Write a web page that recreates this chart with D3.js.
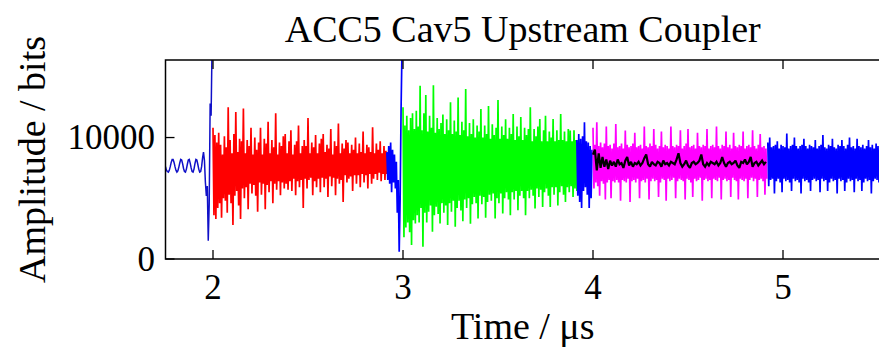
<!DOCTYPE html>
<html><head><meta charset="utf-8">
<script src="https://cdn.jsdelivr.net/npm/d3@7"></script>
<style>
html,body{margin:0;padding:0;background:#fff;}
svg{display:block;font-family:"Liberation Serif","Times New Roman",serif;}
</style></head><body>
<svg id="chart" width="879" height="347"></svg>
<script>
// Coupler probe trace, sampled every 5 ns (µs units); values in ADC bits.
const sampleStep = 0.005;
const blackStep = 0.01;

// Start time of each trace segment (µs)
const preStart = 1.75, redStart = 2.0, blueAStart = 2.915, greenStart = 3.0,
      blueBStart = 3.915, magentaStart = 4.0, blackStart = 4.0, blueCStart = 4.92;

// Pre-pulse ripple and switching transient
const preValues = [7600,7300,7200,7150,7300,7600,7950,8200,8200,7950,
  7600,7300,7150,7250,7550,7900,8200,8150,7850,7450,
  7200,7150,7400,7800,8150,8200,7900,7500,7200,7150,
  7400,7850,8200,8150,7800,7400,7150,7200,7600,8300,
  8800,8100,6300,5200,6000,1500,4500,12800,11800,17500];

// First pulse (alternating high / low samples)
const redValues = [
  10800,3600, 10200,3300, 9600,4200, 10400,4600, 9400,3400, 8600,5000, 10100,4800, 9200,3800,
  12500,5300, 9800,4600, 8700,2800, 10300,5200, 12100,5600, 8800,4400, 9900,3300, 9700,5800,
  12400,5000, 8700,5900, 9800,4100, 9300,6200, 10800,5400, 8600,6100, 10000,5200, 9000,3900,
  9600,6300, 10800,5300, 8600,6200, 9900,4100, 9500,6100, 11300,5500, 8700,6400, 9800,4600,
  9200,6200, 12000,5700, 8600,6400, 9600,5250, 9300,6300, 10100,5800, 10300,6200, 8700,5700,
  9700,6400, 10600,5600, 8600,6600, 9400,5250, 9700,6400, 11000,5900, 8700,6500, 9300,4200,
  9800,6600, 9300,5800, 11600,6500, 8700,6700, 9600,5250, 9200,6400, 10200,5900, 8700,6600,
  9500,5500, 9900,6700, 10300,5900, 8800,6600, 9400,5100, 9100,6800, 10700,6000, 8600,6700,
  9700,5250, 9300,6600, 11150,6200, 8700,6500, 9500,4700, 9100,6900, 9800,6300, 9600,6600,
  8700,6800, 9400,5600, 9000,6900, 10000,6200, 8700,6900, 9500,5900, 8800,7000, 10500,6300,
  8700,6900, 9400,5800, 9200,7000, 8800,6200, 10850,6600, 8700,7000, 9500,6500, 9000,7100,
  9700,6400, 8700,7000, 9300,6500, 8900,7000];

// Gap between pulses
const blueAValues = [8800,6500,9300,6200,9600,5500,9000,6300,8600,5800,8000,3800,6500,600,5000,12500,17500];

// Second pulse
const greenValues = [
  12500,1800, 11000,2600, 11800,3000, 10600,2200, 11600,1150, 12000,3200, 10700,2920, 12200,3600,
  10900,3000, 14260,4200, 10600,1010, 12000,3800, 13500,3000, 10500,3900, 11800,4400, 10800,2240,
  14300,3600, 10400,4300, 11600,3700, 10700,2920, 11200,4600, 11900,3800, 10300,4400, 11500,2800,
  10600,4600, 12900,3900, 10300,4800, 11400,2650, 10500,4200, 13300,4800, 10200,4000, 11300,3100,
  10600,4900, 14000,4200, 10100,5000, 11200,2900, 10300,4500, 11500,5100, 10000,4600, 11000,3330,
  10500,5200, 12350,4500, 10000,5100, 11000,3400, 10300,4700, 12600,5300, 9900,4800, 11100,5400,
  10200,3330, 10800,5000, 13100,4600, 9900,5400, 10900,3740, 10200,5000, 11500,5500, 9900,4900,
  10800,3600, 10300,5500, 11940,4900, 9800,5600, 10900,4020, 10100,5200, 11700,5600, 9800,5000,
  10800,3600, 10200,5600, 10700,5000, 12500,5700, 9700,5200, 10700,4150, 10100,5800, 10900,5100,
  11530,5700, 9700,4290, 10600,5500, 11800,5800, 9700,5200, 10500,4290, 10000,5900, 11530,5300,
  9700,5900, 10600,4400, 9800,5500, 11940,6000, 9800,5300, 10500,4700, 9700,5900, 10700,5500,
  10570,6000, 9700,5100, 10600,5800, 9800,5600];

const blueBValues = [9800,5200,10300,4700,9900,4200,10100,5600,11250,5900,9700,5300,9600,4200,9300,5000,9000];

// Flat-top section
const magentaValues = [
  10800,5800, 9400,6300, 11250,6000, 9300,5200, 9600,6400, 9200,6200, 9500,4900, 10900,6300,
  9300,6500, 9400,5000, 9100,6400, 9500,6300, 11120,6500, 9200,6300, 9300,4800, 9500,6500,
  9100,6400, 10570,6300, 9400,6600, 9200,4700, 9300,6400, 9500,6500, 10400,6300, 9200,6600,
  9300,5000, 9400,6400, 9100,6500, 10900,6300, 9300,6600, 9200,4900, 9500,6400, 9300,6600,
  10700,6400, 9400,6500, 9100,5100, 9300,6300, 10500,6600, 9200,6500, 9400,4800, 9300,6600,
  9100,6400, 10900,6500, 9300,6700, 9200,5000, 9400,6400, 9300,6600, 10600,6500, 9100,6400,
  9300,4900, 9500,6600, 10700,6500, 9200,6300, 9300,5100, 9400,6600, 9100,6400, 10400,6500,
  9300,6700, 9200,4800, 9400,6500, 9300,6600, 10700,6400, 9100,6500, 9300,5000, 9400,6600,
  9200,6500, 10900,6400, 9300,6700, 9100,4900, 9400,6500, 9300,6600, 10500,6400, 9200,6500,
  9400,5100, 9100,6700, 10400,6500, 9300,6400, 9200,4900, 9400,6600, 9300,6500, 10500,6400,
  9100,6600, 9300,5000, 9400,6500, 9200,6700, 10600,6400, 9300,6600, 9100,5100, 9400,6500,
  10300,6600, 9200,6400, 9300,5300, 9100,6600];

// Filtered amplitude over the flat top
const blackValues = [
  8600,9000,7300,8700,7500,8400,7600,8200,7400,8100,
  7700,8000,7600,8200,7800,7900,7500,8100,8400,7700,
  8000,7600,7900,7800,8000,7700,7900,8300,8600,7800,
  7600,8000,7800,7700,8000,7900,7600,8100,7800,7900,
  7700,8000,7900,7800,8200,8700,7900,7600,7800,8100,
  7700,7500,7900,8000,7800,7900,8100,8600,7800,7600,
  7900,7700,8000,7900,7800,8000,7700,7900,8400,7900,
  7600,7900,8000,7800,7900,8100,7700,7500,8000,7900,
  8200,7800,8000,8400,7600,7900,8000,7700,7900,8100,
  7800,8000];

// Decay after the pulse
const blueCValues = [
  9600,6000, 10000,6500, 9200,6600, 9300,5400, 9400,6400, 9700,6600, 9100,6300, 9400,5500,
  9300,6600, 9200,6400, 10330,6500, 9100,6300, 9300,5600, 9400,6600, 10000,6400, 9300,6500,
  9100,6300, 9300,5400, 9400,6600, 9900,6400, 9300,6500, 9100,6300, 9400,5600, 9300,6500,
  9200,6600, 9800,6400, 9100,6500, 9300,5500, 9400,6600, 10200,6400, 9200,6500, 9100,5600,
  9400,6300, 9300,6600, 9900,6400, 9200,6500, 9100,5400, 9400,6600, 9300,6400, 9800,6500,
  9300,5600, 9100,6300, 9400,6600, 10000,6400, 9200,6500, 9300,5500, 9100,6600, 9900,6400,
  9300,6500, 9200,5600, 9400,6300, 9100,6600, 9300,6400, 9800,6500, 9200,5400, 9400,6400,
  9100,6600, 9500,6500, 9300,6300, 9200,6600];

const xTicks = [2, 3, 4, 5];
const yTicks = [0, 10000];
const titleText = "ACC5 Cav5 Upstream Coupler";
const xLabel = "Time / \u03bcs";
const yLabel = "Amplitude / bits";

// ---- layout ----
const svg = d3.select("#chart");
const plot = {left: 165.5, right: 880, top: 60, bottom: 259};
const x = d3.scaleLinear().domain([1.75, 1.75 + (plot.right - plot.left) / 190]).range([plot.left, plot.right]);
const y = d3.scaleLinear().domain([0, 16384]).range([plot.bottom, plot.top]);

svg.append("defs").append("clipPath").attr("id", "plotClip")
  .append("rect").attr("x", plot.left).attr("y", plot.top)
  .attr("width", plot.right - plot.left).attr("height", plot.bottom - plot.top);

const toPoints = (start, step, vals) => vals.map((v, i) => [start + i * step, v]);
const line = d3.line().x(d => x(d[0])).y(d => y(d[1]));

const traces = [
  {pts: toPoints(preStart, sampleStep, preValues), color: "#1010c8", w: 1.5},
  {pts: toPoints(redStart, sampleStep, redValues), color: "#ff0000", w: 1.7},
  {pts: toPoints(blueAStart, sampleStep, blueAValues), color: "#0000ff", w: 1.7},
  {pts: toPoints(greenStart, sampleStep, greenValues), color: "#00ff00", w: 1.7},
  {pts: toPoints(blueBStart, sampleStep, blueBValues), color: "#0000ff", w: 1.7},
  {pts: toPoints(magentaStart, sampleStep, magentaValues), color: "#ff00ff", w: 1.7},
  {pts: toPoints(blackStart, blackStep, blackValues), color: "#000000", w: 2.2},
  {pts: toPoints(blueCStart, sampleStep, blueCValues), color: "#0000ff", w: 1.7}
];

const g = svg.append("g").attr("clip-path", "url(#plotClip)");
g.selectAll("path").data(traces).join("path")
  .attr("d", d => line(d.pts))
  .attr("fill", "none")
  .attr("stroke", d => d.color)
  .attr("stroke-width", d => d.w)
  .attr("stroke-linejoin", "miter")
  .attr("stroke-miterlimit", 2);

// axes box
svg.append("rect").attr("x", plot.left).attr("y", plot.top)
  .attr("width", plot.right - plot.left).attr("height", plot.bottom - plot.top)
  .attr("fill", "none").attr("stroke", "#000").attr("stroke-width", 1.5);

// inward ticks
const tickLen = 9;
const ax = svg.append("g").attr("stroke", "#000").attr("stroke-width", 1.3);
xTicks.forEach(t => {
  ax.append("line").attr("x1", x(t)).attr("x2", x(t)).attr("y1", plot.bottom).attr("y2", plot.bottom - tickLen);
  ax.append("line").attr("x1", x(t)).attr("x2", x(t)).attr("y1", plot.top).attr("y2", plot.top + tickLen);
});
yTicks.forEach(t => {
  ax.append("line").attr("x1", plot.left).attr("x2", plot.left + tickLen).attr("y1", y(t)).attr("y2", y(t));
});

svg.append("g").selectAll("text").data(xTicks).join("text")
  .attr("x", d => x(d)).attr("y", 299)
  .attr("text-anchor", "middle").attr("font-size", 35).attr("fill", "#000")
  .text(d => d);

svg.append("g").selectAll("text").data(yTicks).join("text")
  .attr("x", 155).attr("y", d => y(d)).attr("dy", "0.34em")
  .attr("text-anchor", "end").attr("font-size", 35).attr("fill", "#000")
  .text(d => d);

svg.append("text").attr("x", (plot.left + plot.right) / 2).attr("y", 42)
  .attr("text-anchor", "middle").attr("font-size", 38).attr("fill", "#000")
  .text(titleText);

svg.append("text").attr("x", (plot.left + plot.right) / 2).attr("y", 339)
  .attr("text-anchor", "middle").attr("font-size", 38).attr("fill", "#000")
  .text(xLabel);

svg.append("text").attr("transform", `translate(45,${(plot.top + plot.bottom) / 2}) rotate(-90)`)
  .attr("text-anchor", "middle").attr("font-size", 38).attr("fill", "#000")
  .text(yLabel);
</script>
</body></html>
